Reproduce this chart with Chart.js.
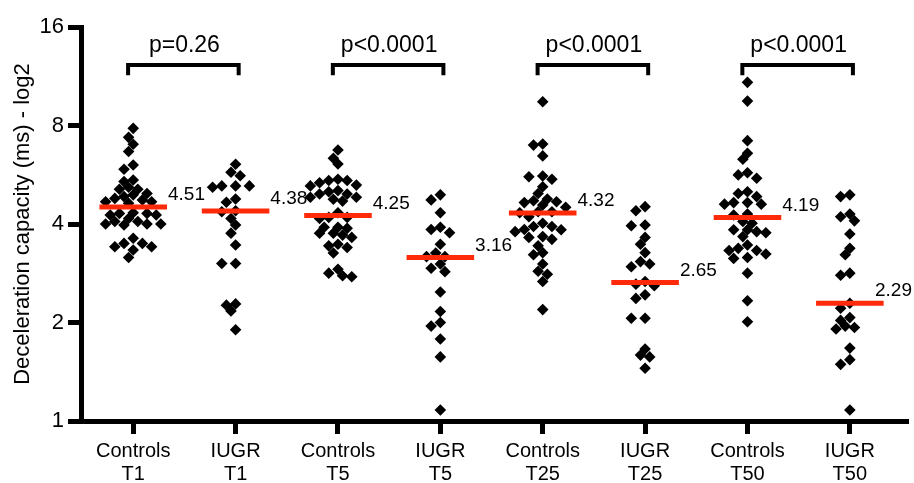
<!DOCTYPE html>
<html>
<head>
<meta charset="utf-8">
<script src="https://cdn.jsdelivr.net/npm/chart.js@4.4.1/dist/chart.umd.min.js"></script>
<style>
  html, body { margin: 0; padding: 0; background: #fff; }
  #wrap { width: 914px; height: 483px; }
</style>
</head>
<body>
<div id="wrap"><canvas id="dcChart"></canvas></div>
<script>
// groups on the x axis (two-line labels)
const groupLabels = [
    ['Controls', 'T1'], ['IUGR', 'T1'],
    ['Controls', 'T5'], ['IUGR', 'T5'],
    ['Controls', 'T25'], ['IUGR', 'T25'],
    ['Controls', 'T50'], ['IUGR', 'T50']
];
const medians = [4.51, 4.38, 4.25, 3.16, 4.32, 2.65, 4.19, 2.29];
const pValues = ['p=0.26', 'p<0.0001', 'p<0.0001', 'p<0.0001'];
const yTicks = [1, 2, 4, 8, 16];

// deceleration capacity (ms), one array per group
const controlsT1 = [7.84, 7.36, 7.01, 6.66, 5.88, 6.06, 5.39, 5.45, 5.11, 5.18, 5.11, 4.96, 4.91, 4.74, 4.79, 4.85, 4.68, 4.68, 4.26, 4.31, 4.26, 4.33, 4.00, 3.97, 4.07, 4.07, 4.00, 4.00, 3.41, 3.49, 3.62, 3.49, 3.41, 3.33, 3.16, 4.16, 4.31, 4.63];
const iugrT1 = [6.09, 5.62, 5.76, 5.23, 5.23, 5.23, 5.18, 4.77, 4.66, 4.36, 4.39, 4.16, 3.97, 3.75, 3.45, 3.03, 3.03, 2.26, 2.17, 2.28, 1.90];
const controlsT5 = [6.73, 6.35, 6.10, 5.48, 5.43, 5.35, 5.43, 5.26, 5.23, 5.06, 4.94, 4.83, 4.76, 4.83, 4.94, 5.02, 4.70, 4.33, 4.16, 4.19, 4.19, 3.91, 3.91, 3.88, 3.75, 3.70, 3.64, 3.47, 3.39, 3.43, 3.26, 2.83, 2.76, 2.78, 2.91, 3.75];
const iugrT5 = [4.91, 4.74, 4.33, 3.85, 3.76, 3.91, 3.47, 3.26, 3.18, 3.18, 2.93, 2.86, 3.02, 2.48, 2.16, 2.00, 1.95, 1.78, 1.57, 1.08];
const controlsT25 = [9.46, 6.97, 7.02, 6.46, 5.58, 5.48, 5.61, 5.20, 4.96, 4.77, 4.68, 4.57, 4.50, 4.65, 4.71, 4.36, 4.21, 4.02, 3.93, 3.93, 3.84, 3.79, 3.85, 3.66, 3.59, 3.64, 3.43, 3.27, 3.22, 3.02, 2.81, 2.87, 2.67, 2.19, 4.33, 4.36];
const iugrT25 = [4.39, 4.52, 3.95, 3.97, 3.64, 3.47, 3.27, 3.07, 2.96, 3.02, 2.62, 2.59, 2.67, 2.43, 2.37, 2.06, 2.06, 1.59, 1.66, 1.57, 1.45];
const controlsT50 = [10.84, 9.50, 7.19, 6.58, 6.31, 5.65, 5.74, 5.52, 5.02, 4.85, 4.96, 4.65, 4.60, 4.60, 4.65, 4.29, 4.26, 3.84, 3.79, 3.76, 3.84, 3.66, 4.02, 3.37, 3.32, 3.24, 3.32, 3.16, 3.14, 3.45, 2.83, 2.33, 2.01, 4.07];
const iugrT50 = [4.85, 4.91, 4.29, 4.09, 4.21, 3.73, 3.37, 3.22, 2.79, 2.83, 2.29, 2.21, 2.07, 1.95, 1.91, 1.93, 2.03, 1.67, 1.54, 1.49, 1.08];

const groupValues = [controlsT1, iugrT1, controlsT5, iugrT5, controlsT25, iugrT25, controlsT50, iugrT50];

const FONT = 'Arial, "Liberation Sans", Helvetica, sans-serif';
const RED = '#ff2a0a';

const datasets = [];

// red median bars (on top)
medians.forEach((m, i) => {
    datasets.push({
        type: 'line',
        kind: 'median',
        data: [{ x: i - 0.33, y: m }, { x: i + 0.33, y: m }],
        borderColor: RED,
        borderWidth: 5,
        borderCapStyle: 'butt',
        pointRadius: 0,
        order: 0
    });
});

// black diamonds, x positions get spread out after layout
groupValues.forEach((vals, g) => {
    datasets.push({
        type: 'scatter',
        kind: 'points',
        group: g,
        values: vals,
        data: vals.map(v => ({ x: g, y: v })),
        pointStyle: 'rectRot',
        pointRadius: 5.8,
        pointBackgroundColor: '#000',
        pointBorderWidth: 0,
        order: 1
    });
});

// significance brackets between each control / IUGR pair
pValues.forEach((p, k) => {
    const a = 2 * k - 0.05, b = 2 * k + 1.03;
    datasets.push({
        type: 'line',
        kind: 'bracket',
        data: [{ x: a, y: 11.4 }, { x: a, y: 12.25 }, { x: b, y: 12.25 }, { x: b, y: 11.4 }],
        borderColor: '#000',
        borderWidth: 4,
        borderCapStyle: 'butt',
        borderJoinStyle: 'miter',
        pointRadius: 0,
        order: 2
    });
});

// median values and p-values as text
const textPlugin = {
    id: 'textPlugin',
    afterDatasetsDraw(chart) {
        const { ctx, scales: { x, y } } = chart;
        ctx.save();
        ctx.fillStyle = '#000';
        ctx.textBaseline = 'middle';
        ctx.font = '19px ' + FONT;
        ctx.textAlign = 'left';
        medians.forEach((m, i) => {
            const txt = m.toFixed(2);
            let tx = x.getPixelForValue(i + 0.33) + 1;
            // keep the last label inside the canvas
            tx = Math.min(tx, chart.width - ctx.measureText(txt).width - 2);
            ctx.fillText(txt, tx, y.getPixelForValue(m) - 12);
        });
        ctx.font = '23px ' + FONT;
        ctx.textAlign = 'center';
        pValues.forEach((p, k) => {
            ctx.fillText(p, x.getPixelForValue(2 * k + 0.5), y.getPixelForValue(14.0));
        });
        ctx.restore();
    }
};

// simple beeswarm: push points sideways until diamonds don't overlap
function spreadPoints(chart) {
    const xs = chart.scales.x, ys = chart.scales.y;
    const unit = xs.getPixelForValue(1) - xs.getPixelForValue(0);
    const step = 4.6, minDist = 10.2;
    chart.data.datasets.forEach(ds => {
        if (ds.kind !== 'points') return;
        const vals = ds.values;
        const placed = [];
        const order = vals.map((v, i) => i).sort((a, b) => vals[b] - vals[a]);
        order.forEach(i => {
            const py = ys.getPixelForValue(vals[i]);
            let dx = 0;
            for (let n = 0; n < 60; n++) {
                dx = n === 0 ? 0 : Math.ceil(n / 2) * step * (n % 2 ? -1 : 1);
                if (placed.every(p => Math.abs(p.dx - dx) + Math.abs(p.py - py) >= minDist)) break;
            }
            placed.push({ dx, py });
            ds.data[i] = { x: ds.group + dx / unit, y: vals[i] };
        });
    });
}

const tickGrid = {
    display: true,
    drawOnChartArea: false,
    drawTicks: true,
    tickLength: 13,
    tickWidth: 5,
    tickColor: '#000'
};

const chart = new Chart(document.getElementById('dcChart'), {
    type: 'scatter',
    data: { datasets },
    options: {
        responsive: true,
        maintainAspectRatio: false,
        animation: false,
        layout: { padding: { top: 27, right: 2, bottom: 0, left: 0 } },
        plugins: { legend: { display: false }, tooltip: { enabled: false } },
        scales: {
            x: {
                type: 'linear',
                min: -0.51,
                max: 7.57,
                afterBuildTicks: s => { s.ticks = groupLabels.map((g, i) => ({ value: i })); },
                afterFit: s => { s.height = 62; },
                ticks: {
                    color: '#000',
                    font: { family: FONT, size: 20, lineHeight: 1.15 },
                    padding: 6,
                    maxRotation: 0,
                    autoSkip: false,
                    callback: v => groupLabels[v]
                },
                grid: tickGrid,
                border: { display: true, color: '#000', width: 5 }
            },
            y: {
                type: 'logarithmic',
                min: 1,
                max: 16,
                afterBuildTicks: s => { s.ticks = yTicks.map(v => ({ value: v })); },
                afterFit: s => { s.width = 81; },
                ticks: {
                    color: '#000',
                    font: { family: FONT, size: 22 },
                    padding: 4,
                    callback: v => String(v)
                },
                grid: tickGrid,
                border: { display: true, color: '#000', width: 5 },
                title: {
                    display: true,
                    text: 'Deceleration capacity (ms) - log2',
                    color: '#000',
                    font: { family: FONT, size: 22 },
                    padding: { top: 10, bottom: 0 }
                }
            }
        }
    },
    plugins: [textPlugin]
});

spreadPoints(chart);
chart.update('none');
</script>
</body>
</html>
